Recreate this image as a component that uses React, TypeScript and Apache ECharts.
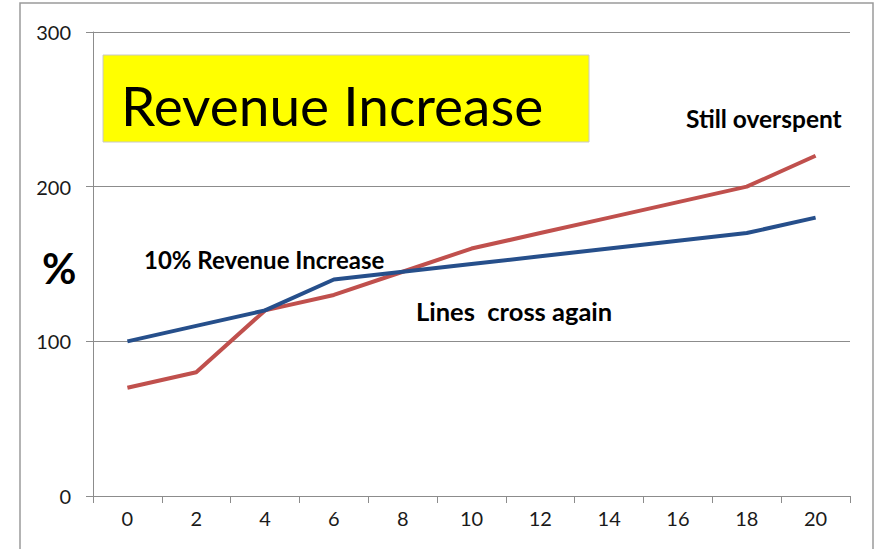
import React, { useEffect, useRef } from "react";
import * as echarts from "echarts";

const categories = ["0", "2", "4", "6", "8", "10", "12", "14", "16", "18", "20"];
const revenueValues = [100, 110, 120, 140, 145, 150, 155, 160, 165, 170, 180];
const spendingValues = [70, 80, 120, 130, 145, 160, 170, 180, 190, 200, 220];
const yTicks = { min: 0, max: 300, interval: 100 };

const FONT = "Lato, 'Noto Sans', sans-serif";

export default function App() {
  const ref = useRef<HTMLDivElement>(null);
  useEffect(() => {
    if (!ref.current) return;
    const chart = echarts.init(ref.current, undefined, { renderer: "svg" });
    chart.setOption({
      animation: false,
      backgroundColor: "#ffffff",
      grid: { left: 93, top: 32, right: 25, bottom: 53, containLabel: false },
      xAxis: {
        type: "category",
        data: categories,
        boundaryGap: true,
        axisLine: { show: true, lineStyle: { color: "#8c8c8c", width: 1 } },
        axisTick: { show: true, length: 7, lineStyle: { color: "#8c8c8c" } },
        axisLabel: { fontSize: 20, color: "#1a1a1a", fontFamily: FONT, margin: 12 },
        splitLine: { show: false },
      },
      yAxis: {
        type: "value",
        min: yTicks.min,
        max: yTicks.max,
        interval: yTicks.interval,
        axisLine: { show: true, lineStyle: { color: "#8c8c8c", width: 1 } },
        axisTick: { show: true, length: 7, lineStyle: { color: "#8c8c8c" } },
        axisLabel: { fontSize: 20, color: "#1a1a1a", fontFamily: FONT, margin: 22 },
        splitLine: { show: true, lineStyle: { color: "#8c8c8c", width: 1 } },
      },
      series: [
        {
          name: "Spending",
          type: "line",
          data: spendingValues,
          symbol: "none",
          lineStyle: { color: "#C0504D", width: 4 },
          itemStyle: { color: "#C0504D" },
          z: 3,
        },
        {
          name: "Revenue",
          type: "line",
          data: revenueValues,
          symbol: "none",
          lineStyle: { color: "#264F8B", width: 4 },
          itemStyle: { color: "#264F8B" },
          z: 4,
        },
      ],
      graphic: [
        {
          type: "rect",
          shape: { x: 20, y: 3, width: 853, height: 570 },
          style: { fill: "none", stroke: "#9a9a9a", lineWidth: 1.5 },
          silent: true,
        },
        {
          type: "rect",
          shape: { x: 103, y: 55, width: 486, height: 87 },
          style: { fill: "#FFFF00", stroke: "#c8c8c8", lineWidth: 1 },
          z: 10,
        },
        {
          type: "text",
          x: 121,
          y: 105,
          z: 11,
          style: {
            text: "Revenue Increase",
            fontSize: 55,
            fontFamily: FONT,
            fill: "#000",
            align: "left",
            verticalAlign: "middle",
          },
        },
        {
          type: "text",
          x: 686,
          y: 118,
          z: 11,
          style: {
            text: "Still overspent",
            fontSize: 24.5,
            fontWeight: "bold",
            fontFamily: FONT,
            fill: "#000",
            align: "left",
            verticalAlign: "middle",
          },
        },
        {
          type: "text",
          x: 144,
          y: 259,
          z: 11,
          style: {
            text: "10% Revenue Increase",
            fontSize: 24,
            fontWeight: "bold",
            fontFamily: FONT,
            fill: "#000",
            align: "left",
            verticalAlign: "middle",
          },
        },
        {
          type: "text",
          x: 42,
          y: 268,
          z: 11,
          style: {
            text: "%",
            fontSize: 42,
            fontWeight: "bold",
            fontFamily: FONT,
            fill: "#000",
            align: "left",
            verticalAlign: "middle",
          },
        },
        {
          type: "text",
          x: 416,
          y: 311,
          z: 11,
          style: {
            text: "Lines  cross again",
            fontSize: 25.5,
            fontWeight: "bold",
            fontFamily: FONT,
            fill: "#000",
            align: "left",
            verticalAlign: "middle",
          },
        },
      ],
    });
    return () => chart.dispose();
  }, []);
  return (
    <div
      ref={ref}
      style={{ position: "fixed", left: 0, top: 0, width: 875, height: 549, background: "#fff" }}
    />
  );
}
